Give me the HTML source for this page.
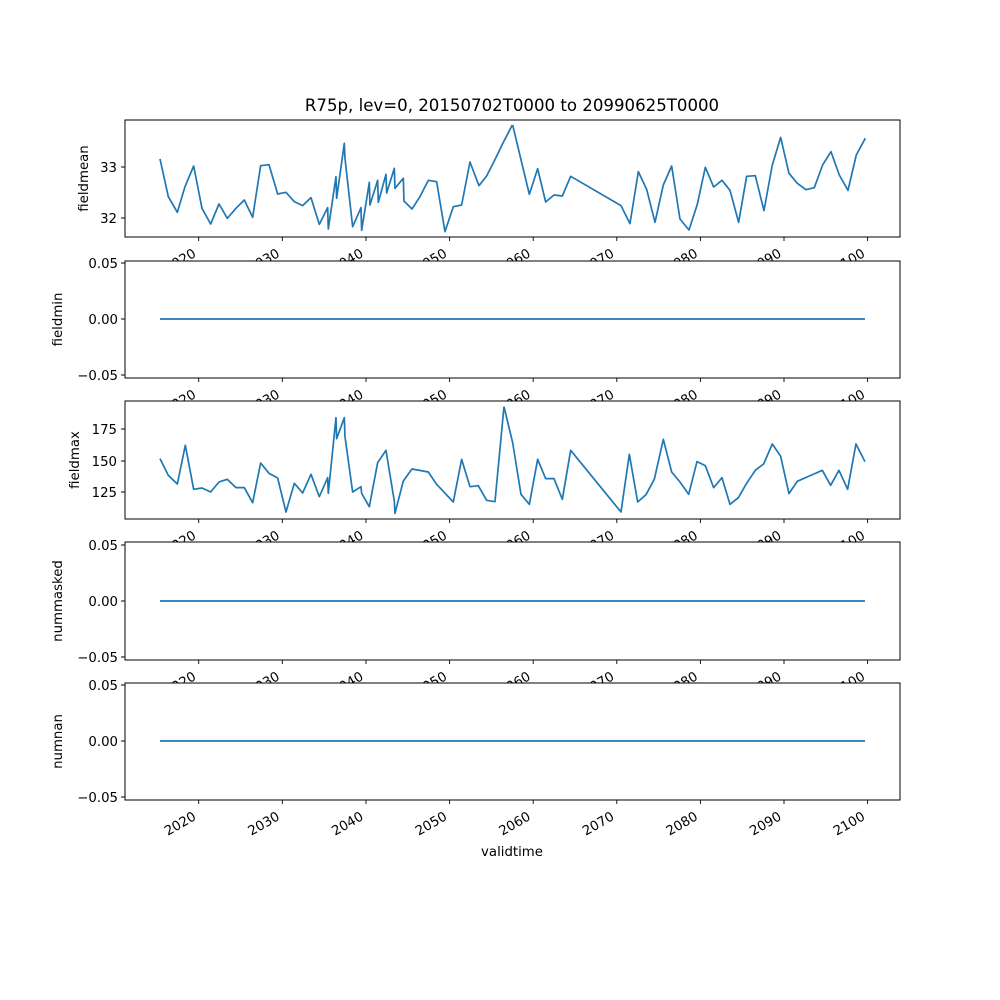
<!DOCTYPE html>
<html><head><meta charset="utf-8"><style>body{margin:0;background:#fff}svg{display:block}text{font-family:"DejaVu Sans","Liberation Sans",sans-serif;font-size:13.3px;fill:#000}</style></head><body>
<svg width="1000" height="1000" viewBox="0 0 1000 1000">
<defs>
<g id="xt">
<path d="M198.7,0v4M282.3,0v4M366,0v4M449.6,0v4M533.2,0v4M616.8,0v4M700.4,0v4M784,0v4M867.6,0v4" stroke="#000" stroke-width="0.9"/>
<g text-anchor="end">
<text transform="translate(197,19) rotate(-30)">2020</text>
<text transform="translate(280.6,19) rotate(-30)">2030</text>
<text transform="translate(364.3,19) rotate(-30)">2040</text>
<text transform="translate(447.9,19) rotate(-30)">2050</text>
<text transform="translate(531.5,19) rotate(-30)">2060</text>
<text transform="translate(615.1,19) rotate(-30)">2070</text>
<text transform="translate(698.7,19) rotate(-30)">2080</text>
<text transform="translate(782.3,19) rotate(-30)">2090</text>
<text transform="translate(865.9,19) rotate(-30)">2100</text>
</g></g>
<g id="zt">
<path d="M125,2h-4M125,58h-4M125,114h-4" stroke="#000" stroke-width="0.9"/>
<g text-anchor="end"><text x="118" y="7">0.05</text><text x="118" y="63">0.00</text><text x="118" y="119">−0.05</text></g>
<line x1="160" y1="58" x2="865" y2="58" stroke="#1f77b4" stroke-width="1.7"/>
</g>
</defs>
<text x="512" y="111" text-anchor="middle" style="font-size:16.6px">R75p, lev=0, 20150702T0000 to 20990625T0000</text>

<!-- panel 1 -->
<rect x="125" y="120" width="775" height="117" fill="#fff"/>
<polyline fill="none" stroke="#1f77b4" stroke-width="1.7" vector-effect="non-scaling-stroke" stroke-linejoin="round" transform="translate(120,115) scale(0.3333)" points="120,132 145,245 172,292 195,215 221,153 246,280 272,327 297,267 322,310 348,280 373,255 398,307 422,152 447,149 473,237 498,232 523,260 548,272 573,248 598,328 623,278 625,342 648,185 650,250 673,85 675,130 698,335 723,278 725,346 748,202 750,270 773,196 775,262 798,178 800,234 823,160 825,220 850,190 852,258 876,282 900,245 925,196 950,200 975,350 1000,275 1025,270 1050,141 1077,212 1100,183 1125,134 1150,82 1177,30"/>
<polyline fill="none" stroke="#1f77b4" stroke-width="1.7" vector-effect="non-scaling-stroke" stroke-linejoin="round" transform="translate(500,115) scale(0.3333)" points="38,30 62,130 88,238 113,161 137,261 162,240 187,243 212,184 363,272 390,326 415,170 440,223 465,322 490,210 515,153 540,312 567,345 592,268 616,157 641,216 666,196 690,226 716,322 740,184 766,182 792,287 817,150 842,67 867,175 892,205 918,224 943,218 968,150 993,110 1018,180 1044,226 1069,120 1096,70"/>
<rect x="125" y="120" width="775" height="117" fill="none" stroke="#000" stroke-width="1"/>
<path d="M125,167h-4M125,218h-4" stroke="#000" stroke-width="0.9"/>
<g text-anchor="end"><text x="117" y="172">33</text><text x="117" y="223">32</text></g>
<text transform="translate(88,178.5) rotate(-90)" text-anchor="middle">fieldmean</text>
<use href="#xt" y="237"/>

<!-- panel 2 -->
<rect x="125" y="261" width="775" height="117" fill="#fff"/>
<use href="#zt" y="261"/>
<rect x="125" y="261" width="775" height="117" fill="none" stroke="#000" stroke-width="1"/>
<text transform="translate(62,319.5) rotate(-90)" text-anchor="middle">fieldmin</text>
<use href="#xt" y="378"/>

<!-- panel 3 -->
<rect x="125" y="401" width="775" height="118" fill="#fff"/>
<polyline fill="none" stroke="#1f77b4" stroke-width="1.7" vector-effect="non-scaling-stroke" stroke-linejoin="round" transform="translate(120,396) scale(0.3333)" points="120,188 145,238 172,264 196,148 221,280 246,276 272,288 297,258 322,250 348,275 373,275 398,320 422,201 447,232 473,246 498,348 523,262 548,291 573,235 598,302 623,245 625,292 648,65 650,128 673,65 675,122 698,288 723,272 725,292 748,332 773,200 798,163 823,315 825,352 850,255 876,219 925,228 950,265 1000,318 1025,190 1050,272 1075,269 1100,313 1125,317 1152,32"/>
<polyline fill="none" stroke="#1f77b4" stroke-width="1.7" vector-effect="non-scaling-stroke" stroke-linejoin="round" transform="translate(500,396) scale(0.3333)" points="12,32 38,140 63,295 88,325 113,190 137,248 162,248 187,310 212,163 363,348 388,175 413,318 438,296 463,250 490,130 515,228 540,258 566,295 591,197 616,209 641,275 666,245 690,325 715,305 740,262 766,223 791,204 817,144 842,181 867,293 892,256 917,245 942,234 967,223 992,268 1017,223 1043,280 1068,144 1095,197"/>
<rect x="125" y="401" width="775" height="118" fill="none" stroke="#000" stroke-width="1"/>
<path d="M125,429h-4M125,461h-4M125,492h-4" stroke="#000" stroke-width="0.9"/>
<g text-anchor="end"><text x="117" y="434">175</text><text x="117" y="466">150</text><text x="117" y="497">125</text></g>
<text transform="translate(79,460) rotate(-90)" text-anchor="middle">fieldmax</text>
<use href="#xt" y="519"/>

<!-- panel 4 -->
<rect x="125" y="542" width="775" height="118" fill="#fff"/>
<use href="#zt" y="543"/>
<rect x="125" y="542" width="775" height="118" fill="none" stroke="#000" stroke-width="1"/>
<text transform="translate(62,601) rotate(-90)" text-anchor="middle">nummasked</text>
<use href="#xt" y="660"/>

<!-- panel 5 -->
<rect x="125" y="683" width="775" height="117" fill="#fff"/>
<use href="#zt" y="683"/>
<rect x="125" y="683" width="775" height="117" fill="none" stroke="#000" stroke-width="1"/>
<text transform="translate(62,741.5) rotate(-90)" text-anchor="middle">numnan</text>
<use href="#xt" y="800"/>
<text x="512" y="856" text-anchor="middle">validtime</text>
</svg>
</body></html>
